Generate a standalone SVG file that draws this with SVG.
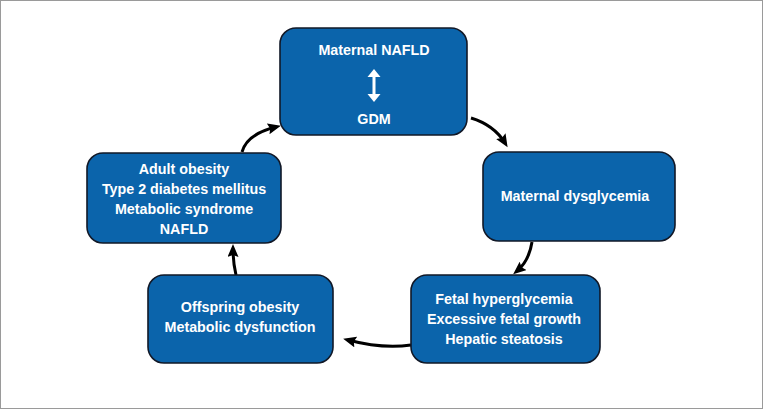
<svg xmlns="http://www.w3.org/2000/svg" width="763" height="409" viewBox="0 0 763 409">
<style>
.box{fill:#0b64ab;stroke:#111827;stroke-width:1.6}
.t{font-family:"Liberation Sans",Arial,sans-serif;font-weight:bold;font-size:14.3px;fill:#ffffff;text-anchor:middle}
.c{fill:none;stroke:#000;stroke-width:3}
</style>
<defs>
<marker id="ah" markerUnits="userSpaceOnUse" markerWidth="15" markerHeight="13" refX="8" refY="5.5" orient="auto">
<path d="M0,0 L13,5.5 L0,11 L2,5.5 z" fill="#000"/>
</marker>
</defs>
<rect x="0.5" y="0.5" width="762" height="408" fill="#fff" stroke="#9a9a9a" stroke-width="1"/>
<g id="connectors">
<path class="c" d="M471,118 Q494,125 505,143" marker-end="url(#ah)"/>
<path class="c" d="M532,242 Q529,261 517,271" marker-end="url(#ah)"/>
<path class="c" d="M411,345 Q382,349 348,340" marker-end="url(#ah)"/>
<path class="c" d="M236,275 Q233,262 233,249" marker-end="url(#ah)"/>
<path class="c" d="M242,152 Q247,134 276,127" marker-end="url(#ah)"/>
</g>
<g id="n-top">
<rect class="box" x="280" y="28" width="187" height="107" rx="16"/>
<text class="t" x="374" y="55">Maternal NAFLD</text>
<path d="M374,69 L380.5,77 L375.5,77 L375.5,94 L380.5,94 L374,102 L367.5,94 L372.5,94 L372.5,77 L367.5,77 z" fill="#fff"/>
<text class="t" x="374" y="124">GDM</text>
</g>
<g id="n-dysglycemia">
<rect class="box" x="483" y="152" width="192" height="89" rx="16"/>
<text class="t" x="575" y="201">Maternal dysglycemia</text>
</g>
<g id="n-fetal">
<rect class="box" x="411" y="275" width="189" height="88" rx="16"/>
<text class="t" x="504" y="304">Fetal hyperglycemia</text>
<text class="t" x="504" y="324">Excessive fetal growth</text>
<text class="t" x="504" y="344">Hepatic steatosis</text>
</g>
<g id="n-offspring">
<rect class="box" x="148" y="275" width="185" height="88" rx="16"/>
<text class="t" x="240" y="312">Offspring obesity</text>
<text class="t" x="240" y="332">Metabolic dysfunction</text>
</g>
<g id="n-adult">
<rect class="box" x="87" y="153" width="194" height="90" rx="16"/>
<text class="t" x="184" y="174">Adult obesity</text>
<text class="t" x="184" y="194">Type 2 diabetes mellitus</text>
<text class="t" x="184" y="214">Metabolic syndrome</text>
<text class="t" x="184" y="234">NAFLD</text>
</g>
</svg>
